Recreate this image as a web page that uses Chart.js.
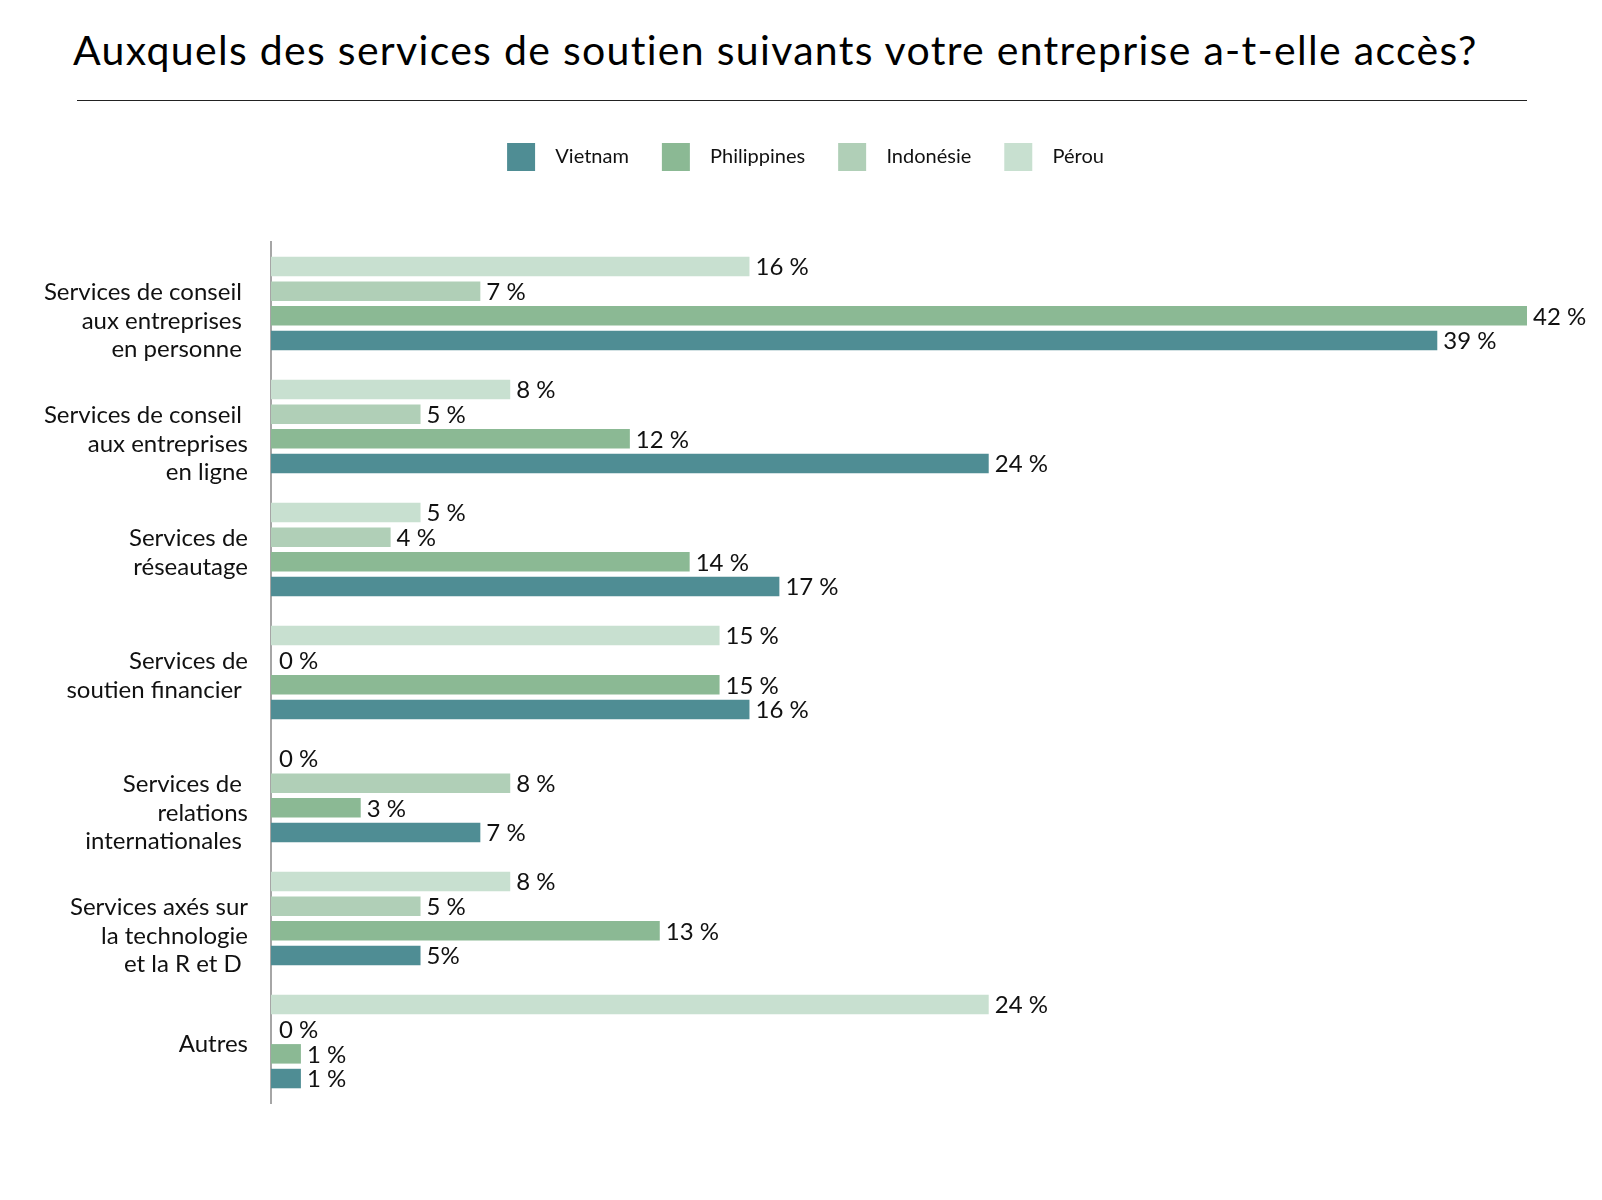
<!DOCTYPE html>
<html lang="fr">
<head>
<meta charset="utf-8">
<title>Services de soutien</title>
<script src="https://cdn.jsdelivr.net/npm/chart.js@4/dist/chart.umd.min.js"></script>
<style>
  html, body { margin: 0; padding: 0; background: #ffffff; }
  #wrap { position: relative; width: 1602px; height: 1200px; }
  #title {
    position: absolute; left: 73px; top: 20px; margin: 0;
    font-family: Lato, "Noto Sans", sans-serif; font-weight: 400;
    font-size: 41px; letter-spacing: 1.3px; line-height: 60px; color: #000; white-space: nowrap;
  }
  #rule { position: absolute; left: 77px; top: 100px; width: 1450px; height: 0; border-top: 1.5px solid #222; }
  #c { position: absolute; left: 0; top: 0; }
</style>
</head>
<body>
<div id="wrap">
  <h1 id="title">Auxquels des services de soutien suivants votre entreprise a-t-elle accès?</h1>
  <div id="rule"></div>
  <canvas id="c" width="1602" height="1200"></canvas>
</div>
<script>
// ---- Data ----
const categories = [
  ["", "Services de conseil ", "aux entreprises ", "en personne "],
  ["", "Services de conseil ", "aux entreprises", "en ligne"],
  ["Services de", "réseautage"],
  ["Services de", "soutien financier "],
  ["", "Services de ", "relations", "internationales "],
  ["", "Services axés sur", "la technologie", "et la R et D "],
  ["Autres"]
];
const seriesNames = ["Vietnam", "Philippines", "Indonésie", "Pérou"];
const vietnam     = [39, 24, 17, 16, 7, 5, 1];
const philippines = [42, 12, 14, 15, 3, 13, 1];
const indonesie   = [7, 5, 4, 0, 8, 5, 0];
const perou       = [16, 8, 5, 15, 0, 8, 24];
const axisMax = 42;
// label written without a space in the source ("5%"): [series, category]
const compactLabels = [["Vietnam", 5]];

const colors = {
  "Vietnam": "#4f8d94",
  "Philippines": "#8bb994",
  "Indonésie": "#b0cfb7",
  "Pérou": "#c8e0d0"
};

const FONT = "Lato, 'Noto Sans', sans-serif";

// datasets drawn top-to-bottom inside each group: Pérou, Indonésie, Philippines, Vietnam
const seriesData = { "Vietnam": vietnam, "Philippines": philippines, "Indonésie": indonesie, "Pérou": perou };
const drawOrder = ["Pérou", "Indonésie", "Philippines", "Vietnam"];
const datasets = drawOrder.map(name => ({
  label: name,
  data: seriesData[name],
  backgroundColor: colors[name],
  borderWidth: 0,
  categoryPercentage: 0.803,
  barPercentage: 0.79
}));

const valueLabels = {
  id: 'valueLabels',
  afterDatasetsDraw(chart) {
    const ctx = chart.ctx;
    ctx.save();
    ctx.font = "24px " + FONT;
    ctx.fillStyle = "#111";
    ctx.textAlign = "left";
    ctx.textBaseline = "middle";
    chart.data.datasets.forEach((ds, di) => {
      const meta = chart.getDatasetMeta(di);
      meta.data.forEach((bar, i) => {
        const v = ds.data[i];
        const compact = compactLabels.some(([s, c]) => s === ds.label && c === i);
        const txt = compact ? v + "%" : v + " %";
        const x = bar.x + (v === 0 ? 8 : 6);
        ctx.fillText(txt, x, bar.y + 1);
      });
    });
    ctx.restore();
  }
};

const legendGap = {
  id: 'legendGap',
  beforeInit(chart) {
    const lg = chart.legend;
    if (!lg) return;
    const origFit = lg.fit;
    lg.fit = function () { origFit.call(this); this.height += 61; };
    const origDraw = lg.draw;
    lg.draw = function () {
      const l = this.left;
      this.left = l + 68;
      origDraw.call(this);
      this.left = l;
    };
  }
};

new Chart(document.getElementById('c'), {
  type: 'bar',
  data: { labels: categories, datasets },
  options: {
    indexAxis: 'y',
    responsive: false,
    animation: false,
    layout: { padding: { top: 110, left: 16, right: 75, bottom: 97 } },
    scales: {
      x: { display: false, min: 0, max: axisMax },
      y: {
        grid: { display: false, drawTicks: false },
        border: { display: true, color: '#a6a6a6', width: 2 },
        ticks: {
          padding: 23,
          labelOffset: 3,
          color: '#111',
          font: { family: FONT, size: 24, lineHeight: 1.19 }
        },
        afterFit(scale) { scale.width = 271 - 16; }
      }
    },
    plugins: {
      legend: {
        position: 'top',
        reverse: true,
        labels: {
          boxWidth: 28,
          boxHeight: 28,
          padding: 33,
          color: '#111',
          font: { family: FONT, size: 20 },
          generateLabels(chart) {
            const items = Chart.defaults.plugins.legend.labels.generateLabels(chart);
            items.forEach(it => { it.text = "  " + it.text; it.lineWidth = 0; });
            return items;
          }
        }
      },
      tooltip: { enabled: false }
    }
  },
  plugins: [valueLabels, legendGap]
});
</script>
</body>
</html>
